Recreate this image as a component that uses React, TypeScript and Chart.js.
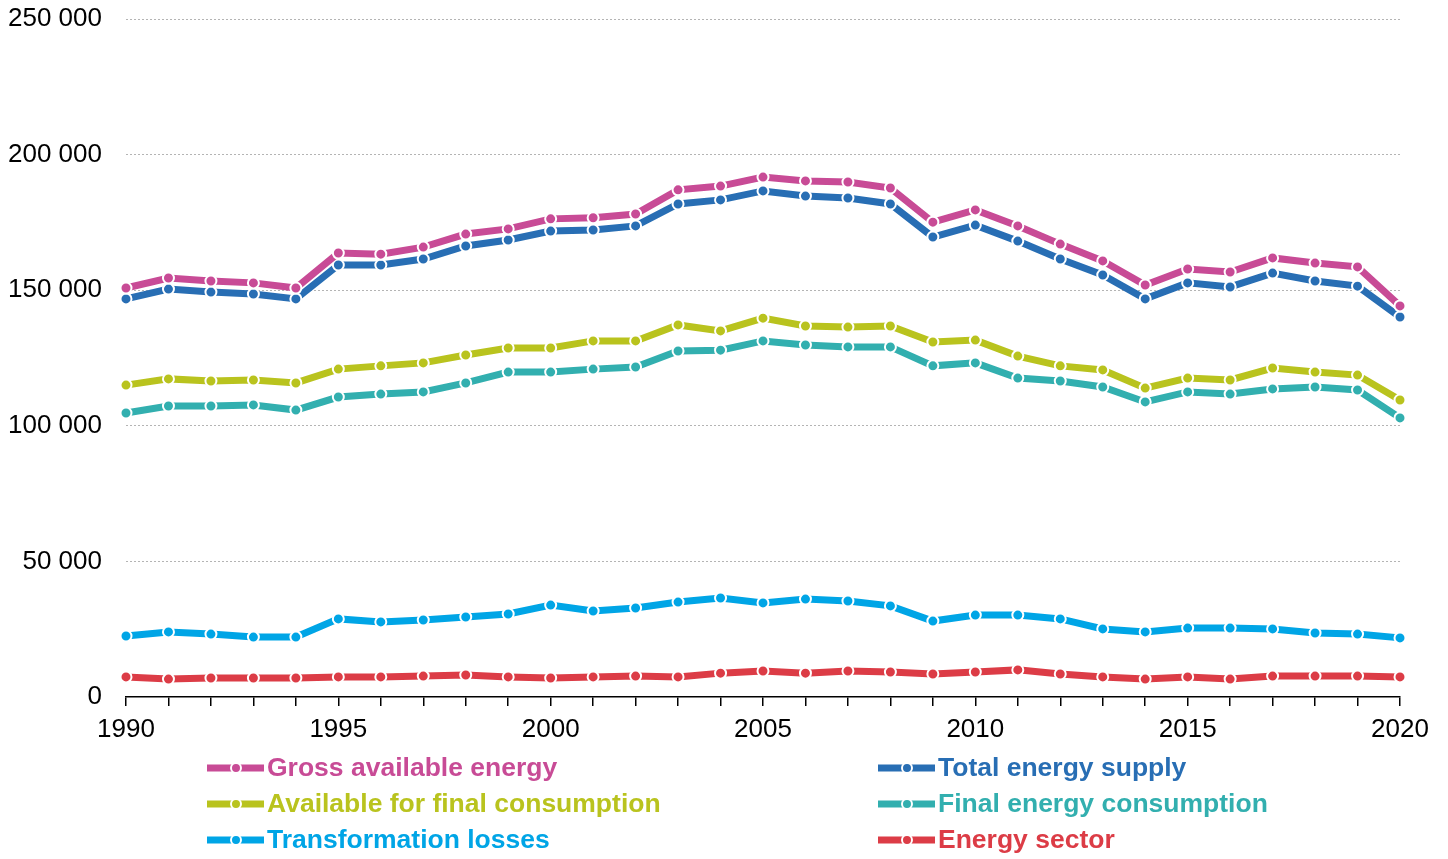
import React, { useEffect, useRef } from "react";
import { Chart, registerables } from "chart.js";

Chart.register(...registerables);

const years: number[] = [
  1990, 1991, 1992, 1993, 1994, 1995, 1996, 1997, 1998, 1999, 2000, 2001, 2002, 2003, 2004, 2005,
  2006, 2007, 2008, 2009, 2010, 2011, 2012, 2013, 2014, 2015, 2016, 2017, 2018, 2019, 2020,
];

const grossAvailable: number[] = [
  150800, 154500, 153400, 152700, 150800, 163700, 163300, 165900, 170700, 172600, 176300, 176700,
  178100, 187000, 188400, 191700, 190300, 189900, 187700, 175100, 179600, 173700, 167000, 160800,
  151900, 157800, 156700, 161900, 160000, 158600, 144200,
];

const totalSupply: number[] = [
  146800, 150400, 149300, 148600, 146800, 159300, 159300, 161500, 166300, 168500, 171800, 172200,
  173700, 181800, 183300, 186600, 184700, 184000, 181800, 169600, 174000, 168100, 161500, 155600,
  146800, 152700, 151200, 156300, 153400, 151500, 140100,
];

const availableFinal: number[] = [
  115000, 117300, 116500, 116900, 115800, 120900, 122100, 123200, 126100, 128700, 128700, 131300,
  131300, 137200, 135000, 139700, 136800, 136400, 136800, 130900, 131600, 125700, 122100, 120600,
  113900, 117600, 116900, 121300, 119800, 118700, 109500,
];

const finalConsumption: number[] = [
  104700, 107300, 107300, 107700, 105800, 110600, 111700, 112500, 115800, 119800, 119800, 120900,
  121700, 127600, 127900, 131300, 129800, 129100, 129100, 122100, 123200, 117600, 116500, 114300,
  108800, 112500, 111700, 113600, 114300, 113200, 102900,
];

const transformationLosses: number[] = [
  22500, 24000, 23200, 22100, 22100, 28800, 27700, 28400, 29500, 30600, 33900, 31700, 32800, 35000,
  36500, 34700, 36100, 35400, 33600, 28000, 30200, 30200, 28800, 25100, 24000, 25400, 25400, 25100,
  23600, 23200, 21800,
];

const energySector: number[] = [
  7400, 6600, 7000, 7000, 7000, 7400, 7400, 7700, 8100, 7400, 7000, 7400, 7700, 7400, 8800, 9600,
  8800, 9600, 9200, 8500, 9200, 10000, 8500, 7400, 6600, 7400, 6600, 7700, 7700, 7700, 7400,
];

const seriesNames: string[] = [
  "Gross available energy",
  "Total energy supply",
  "Available for final consumption",
  "Final energy consumption",
  "Transformation losses",
  "Energy sector",
];

const seriesColors: string[] = ["#C84B96", "#286EB4", "#B9C31E", "#32AFAF", "#00A5E6", "#DC3C46"];

const seriesValues: number[][] = [
  grossAvailable,
  totalSupply,
  availableFinal,
  finalConsumption,
  transformationLosses,
  energySector,
];

const FONT = "'Liberation Sans', Arial, Helvetica, sans-serif";

const fmt = (v: number) => String(v).replace(/\B(?=(\d{3})+(?!\d))/g, " ");

const legendPlugin = {
  id: "customLegend",
  afterDraw(chart: any) {
    const ctx = chart.ctx;
    const cols = [207, 878];
    const rows = [768, 804, 840];
    ctx.save();
    chart.data.datasets.forEach((ds: any, i: number) => {
      const x0 = cols[i % 2];
      const y = rows[Math.floor(i / 2)];
      const c = ds.borderColor;
      ctx.strokeStyle = c;
      ctx.lineWidth = 7;
      ctx.lineCap = "butt";
      ctx.beginPath();
      ctx.moveTo(x0, y);
      ctx.lineTo(x0 + 57, y);
      ctx.stroke();
      ctx.beginPath();
      ctx.arc(x0 + 29, y, 5, 0, Math.PI * 2);
      ctx.fillStyle = c;
      ctx.fill();
      ctx.lineWidth = 2;
      ctx.strokeStyle = "#ffffff";
      ctx.stroke();
      ctx.fillStyle = c;
      ctx.font = `bold 26.5px ${FONT}`;
      ctx.textAlign = "left";
      ctx.textBaseline = "middle";
      ctx.fillText(ds.label, x0 + 60, y + 1);
    });
    ctx.restore();
  },
};

export default function App() {
  const canvasRef = useRef<HTMLCanvasElement | null>(null);

  useEffect(() => {
    if (!canvasRef.current) return;
    const chart = new Chart(canvasRef.current, {
      type: "line",
      data: {
        labels: years.map(String),
        datasets: seriesValues.map((vals, i) => ({
          label: seriesNames[i],
          data: vals,
          borderColor: seriesColors[i],
          backgroundColor: seriesColors[i],
          borderWidth: 7,
          pointRadius: 5.5,
          pointBorderWidth: 2,
          pointBorderColor: "#ffffff",
          pointBackgroundColor: seriesColors[i],
          tension: 0,
          fill: false,
        })),
      },
      options: {
        animation: false,
        responsive: false,
        devicePixelRatio: 1,
        layout: { padding: { left: 0, right: 48, top: 0, bottom: 102 } },
        plugins: {
          legend: { display: false },
          tooltip: { enabled: false },
        },
        scales: {
          x: {
            type: "category",
            offset: false,
            afterFit: (s: any) => {
              s.height = 60;
            },
            grid: {
              drawOnChartArea: false,
              drawTicks: true,
              tickLength: 9,
              color: "#000000",
              lineWidth: 1.5,
              offset: false,
            },
            border: { display: true, color: "#000000", width: 1.5 },
            ticks: {
              autoSkip: false,
              maxRotation: 0,
              padding: 8,
              color: "#000000",
              font: { family: FONT, size: 26 },
              callback: (_v: any, idx: number) => (years[idx] % 5 === 0 ? String(years[idx]) : ""),
            },
          },
          y: {
            min: 0,
            max: 250000,
            afterFit: (s: any) => {
              s.width = 126;
              s.paddingTop = 19;
              s.paddingBottom = 0;
            },
            grid: {
              drawTicks: false,
              color: (c: any) => (c.tick && c.tick.value === 0 ? "rgba(0,0,0,0)" : "#b4b4b4"),
              lineWidth: 1,
            },
            border: { display: false, dash: [2, 2] },
            ticks: {
              stepSize: 50000,
              padding: 24,
              color: "#000000",
              font: { family: FONT, size: 26 },
              callback: (v: any) => fmt(Number(v)),
            },
          },
        },
      },
      plugins: [legendPlugin],
    });
    return () => chart.destroy();
  }, []);

  return (
    <div style={{ position: "absolute", left: 0, top: 0, width: 1448, height: 859, background: "#ffffff" }}>
      <canvas ref={canvasRef} width={1448} height={859} style={{ display: "block" }} />
    </div>
  );
}
